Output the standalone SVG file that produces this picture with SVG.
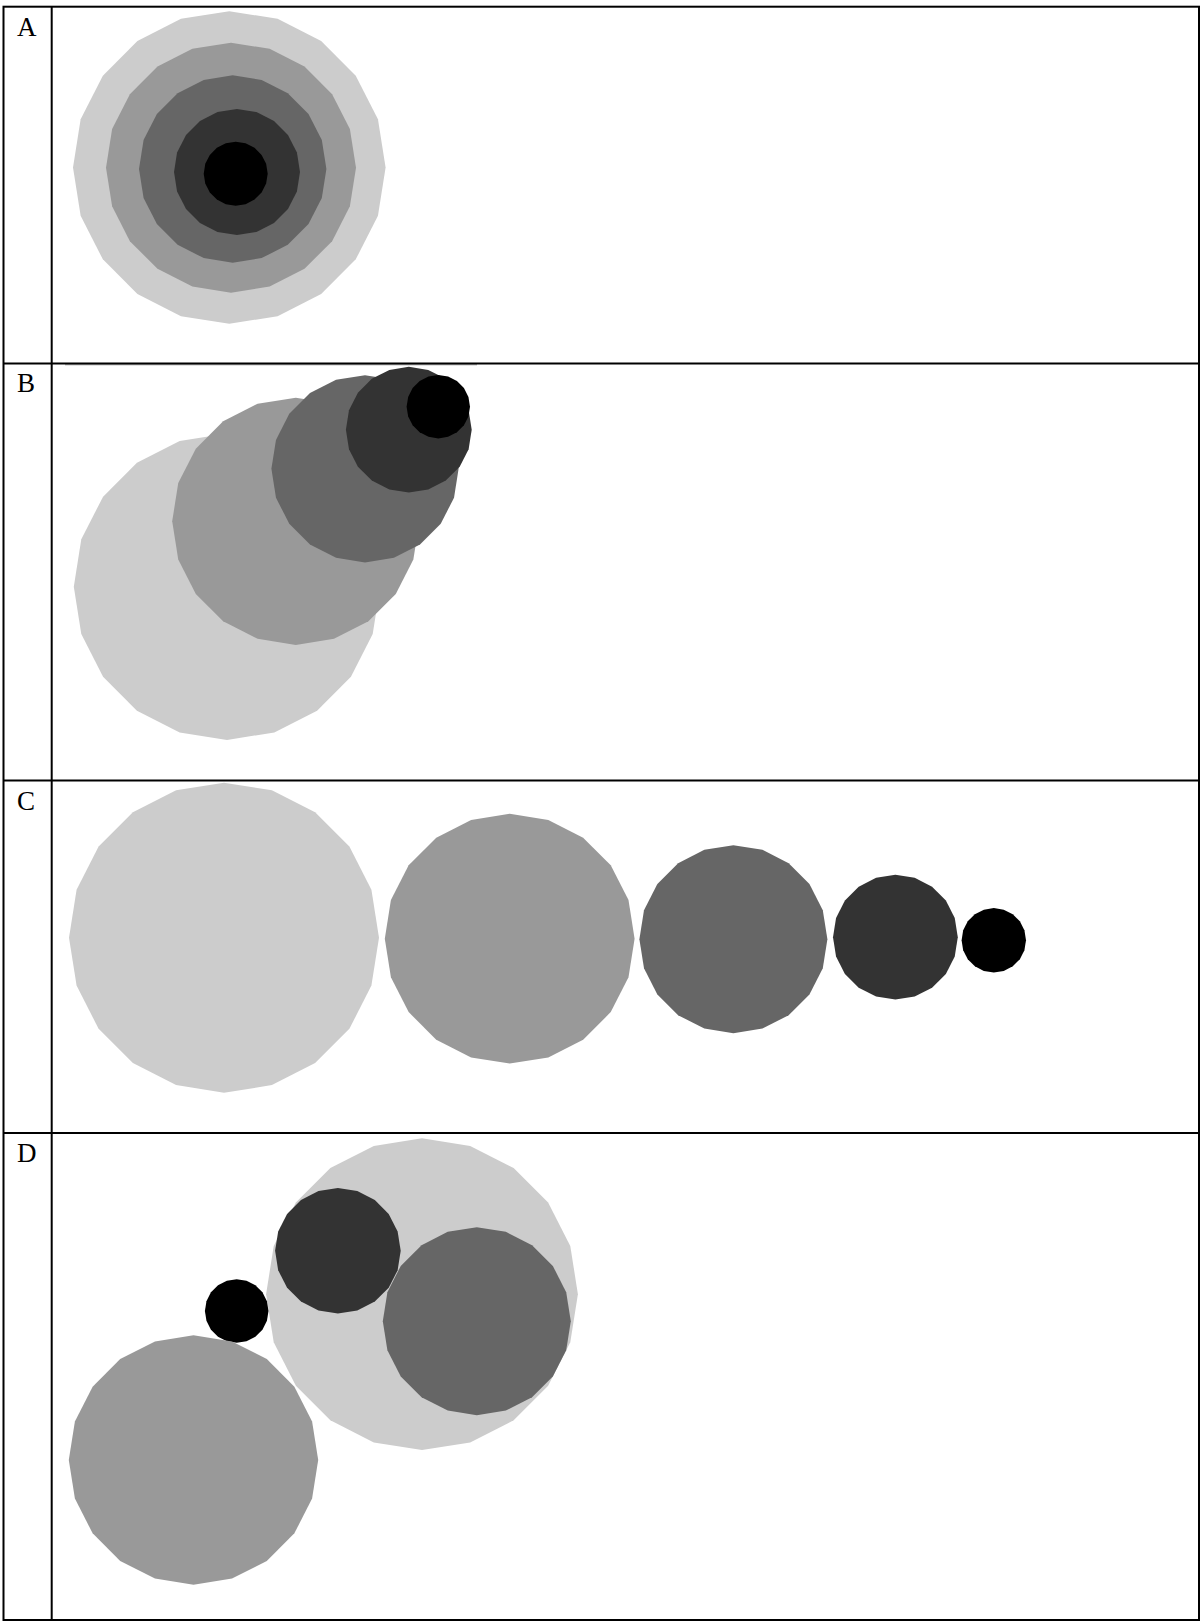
<svg xmlns="http://www.w3.org/2000/svg" xmlns:xlink="http://www.w3.org/1999/xlink" width="1201" height="1621" viewBox="0 0 1201 1621">
<style>
.lbl{font-family:"Liberation Serif","Times New Roman",serif;font-size:27px;fill:#000}
.grid{stroke:#000;stroke-width:2;fill:none}
.c1{fill:#cccccc}.c2{fill:#999999}.c3{fill:#666666}.c4{fill:#333333}.c5{fill:#000000}
</style>
<defs>
<polygon id="p" points="100,0 95.11,30.9 80.9,58.78 58.78,80.9 30.9,95.11 0,100 -30.9,95.11 -58.78,80.9 -80.9,58.78 -95.11,30.9 -100,0 -95.11,-30.9 -80.9,-58.78 -58.78,-80.9 -30.9,-95.11 0,-100 30.9,-95.11 58.78,-80.9 80.9,-58.78 95.11,-30.9"/>
</defs>
<rect x="0" y="0" width="1201" height="1621" fill="#fff"/>
<g id="panelA">
<use xlink:href="#p" href="#p" class="c1" transform="translate(229.3 167.5) scale(1.563)"/>
<use xlink:href="#p" href="#p" class="c2" transform="translate(231 167.7) scale(1.25)"/>
<use xlink:href="#p" href="#p" class="c3" transform="translate(232.7 169) scale(0.937)"/>
<use xlink:href="#p" href="#p" class="c4" transform="translate(237 172) scale(0.63)"/>
<use xlink:href="#p" href="#p" class="c5" transform="translate(235.7 173.7) scale(0.32)"/>
<text class="lbl" x="17" y="36">A</text>
</g>
<g id="panelB">
<line x1="65" y1="364.8" x2="477" y2="364.8" stroke="#999" stroke-width="1"/>
<use xlink:href="#p" href="#p" class="c1" transform="translate(227 586.7) scale(1.532)"/>
<use xlink:href="#p" href="#p" class="c2" transform="translate(295.8 521.3) scale(1.236)"/>
<use xlink:href="#p" href="#p" class="c3" transform="translate(365 468.8) scale(0.936)"/>
<use xlink:href="#p" href="#p" class="c4" transform="translate(408.8 429.7) scale(0.629)"/>
<use xlink:href="#p" href="#p" class="c5" transform="translate(438.3 406.7) scale(0.317)"/>
<text class="lbl" x="17" y="391.5">B</text>
</g>
<g id="panelC">
<use xlink:href="#p" href="#p" class="c1" transform="translate(224 937.7) scale(1.55)"/>
<use xlink:href="#p" href="#p" class="c2" transform="translate(509.7 938.7) scale(1.249)"/>
<use xlink:href="#p" href="#p" class="c3" transform="translate(733.4 939.2) scale(0.94)"/>
<use xlink:href="#p" href="#p" class="c4" transform="translate(895.4 937.2) scale(0.624)"/>
<use xlink:href="#p" href="#p" class="c5" transform="translate(993.8 940.3) scale(0.322)"/>
<text class="lbl" x="17" y="809.5">C</text>
</g>
<g id="panelD">
<use xlink:href="#p" href="#p" class="c1" transform="translate(422 1294.2) scale(1.559)"/>
<use xlink:href="#p" href="#p" class="c4" transform="translate(337.9 1250.8) scale(0.628)"/>
<use xlink:href="#p" href="#p" class="c3" transform="translate(476.8 1321.2) scale(0.94)"/>
<use xlink:href="#p" href="#p" class="c5" transform="translate(236.7 1311) scale(0.318)"/>
<use xlink:href="#p" href="#p" class="c2" transform="translate(193.5 1460) scale(1.247)"/>
<text class="lbl" x="17" y="1161.5">D</text>
</g>
<g id="table">
<rect class="grid" x="3.5" y="6.7" width="1195.5" height="1613.3"/>
<line class="grid" x1="51.7" y1="6.7" x2="51.7" y2="1620"/>
<line class="grid" x1="3.5" y1="363.5" x2="1199" y2="363.5"/>
<line class="grid" x1="3.5" y1="780.5" x2="1199" y2="780.5"/>
<line class="grid" x1="3.5" y1="1133" x2="1199" y2="1133"/>
</g>
</svg>
